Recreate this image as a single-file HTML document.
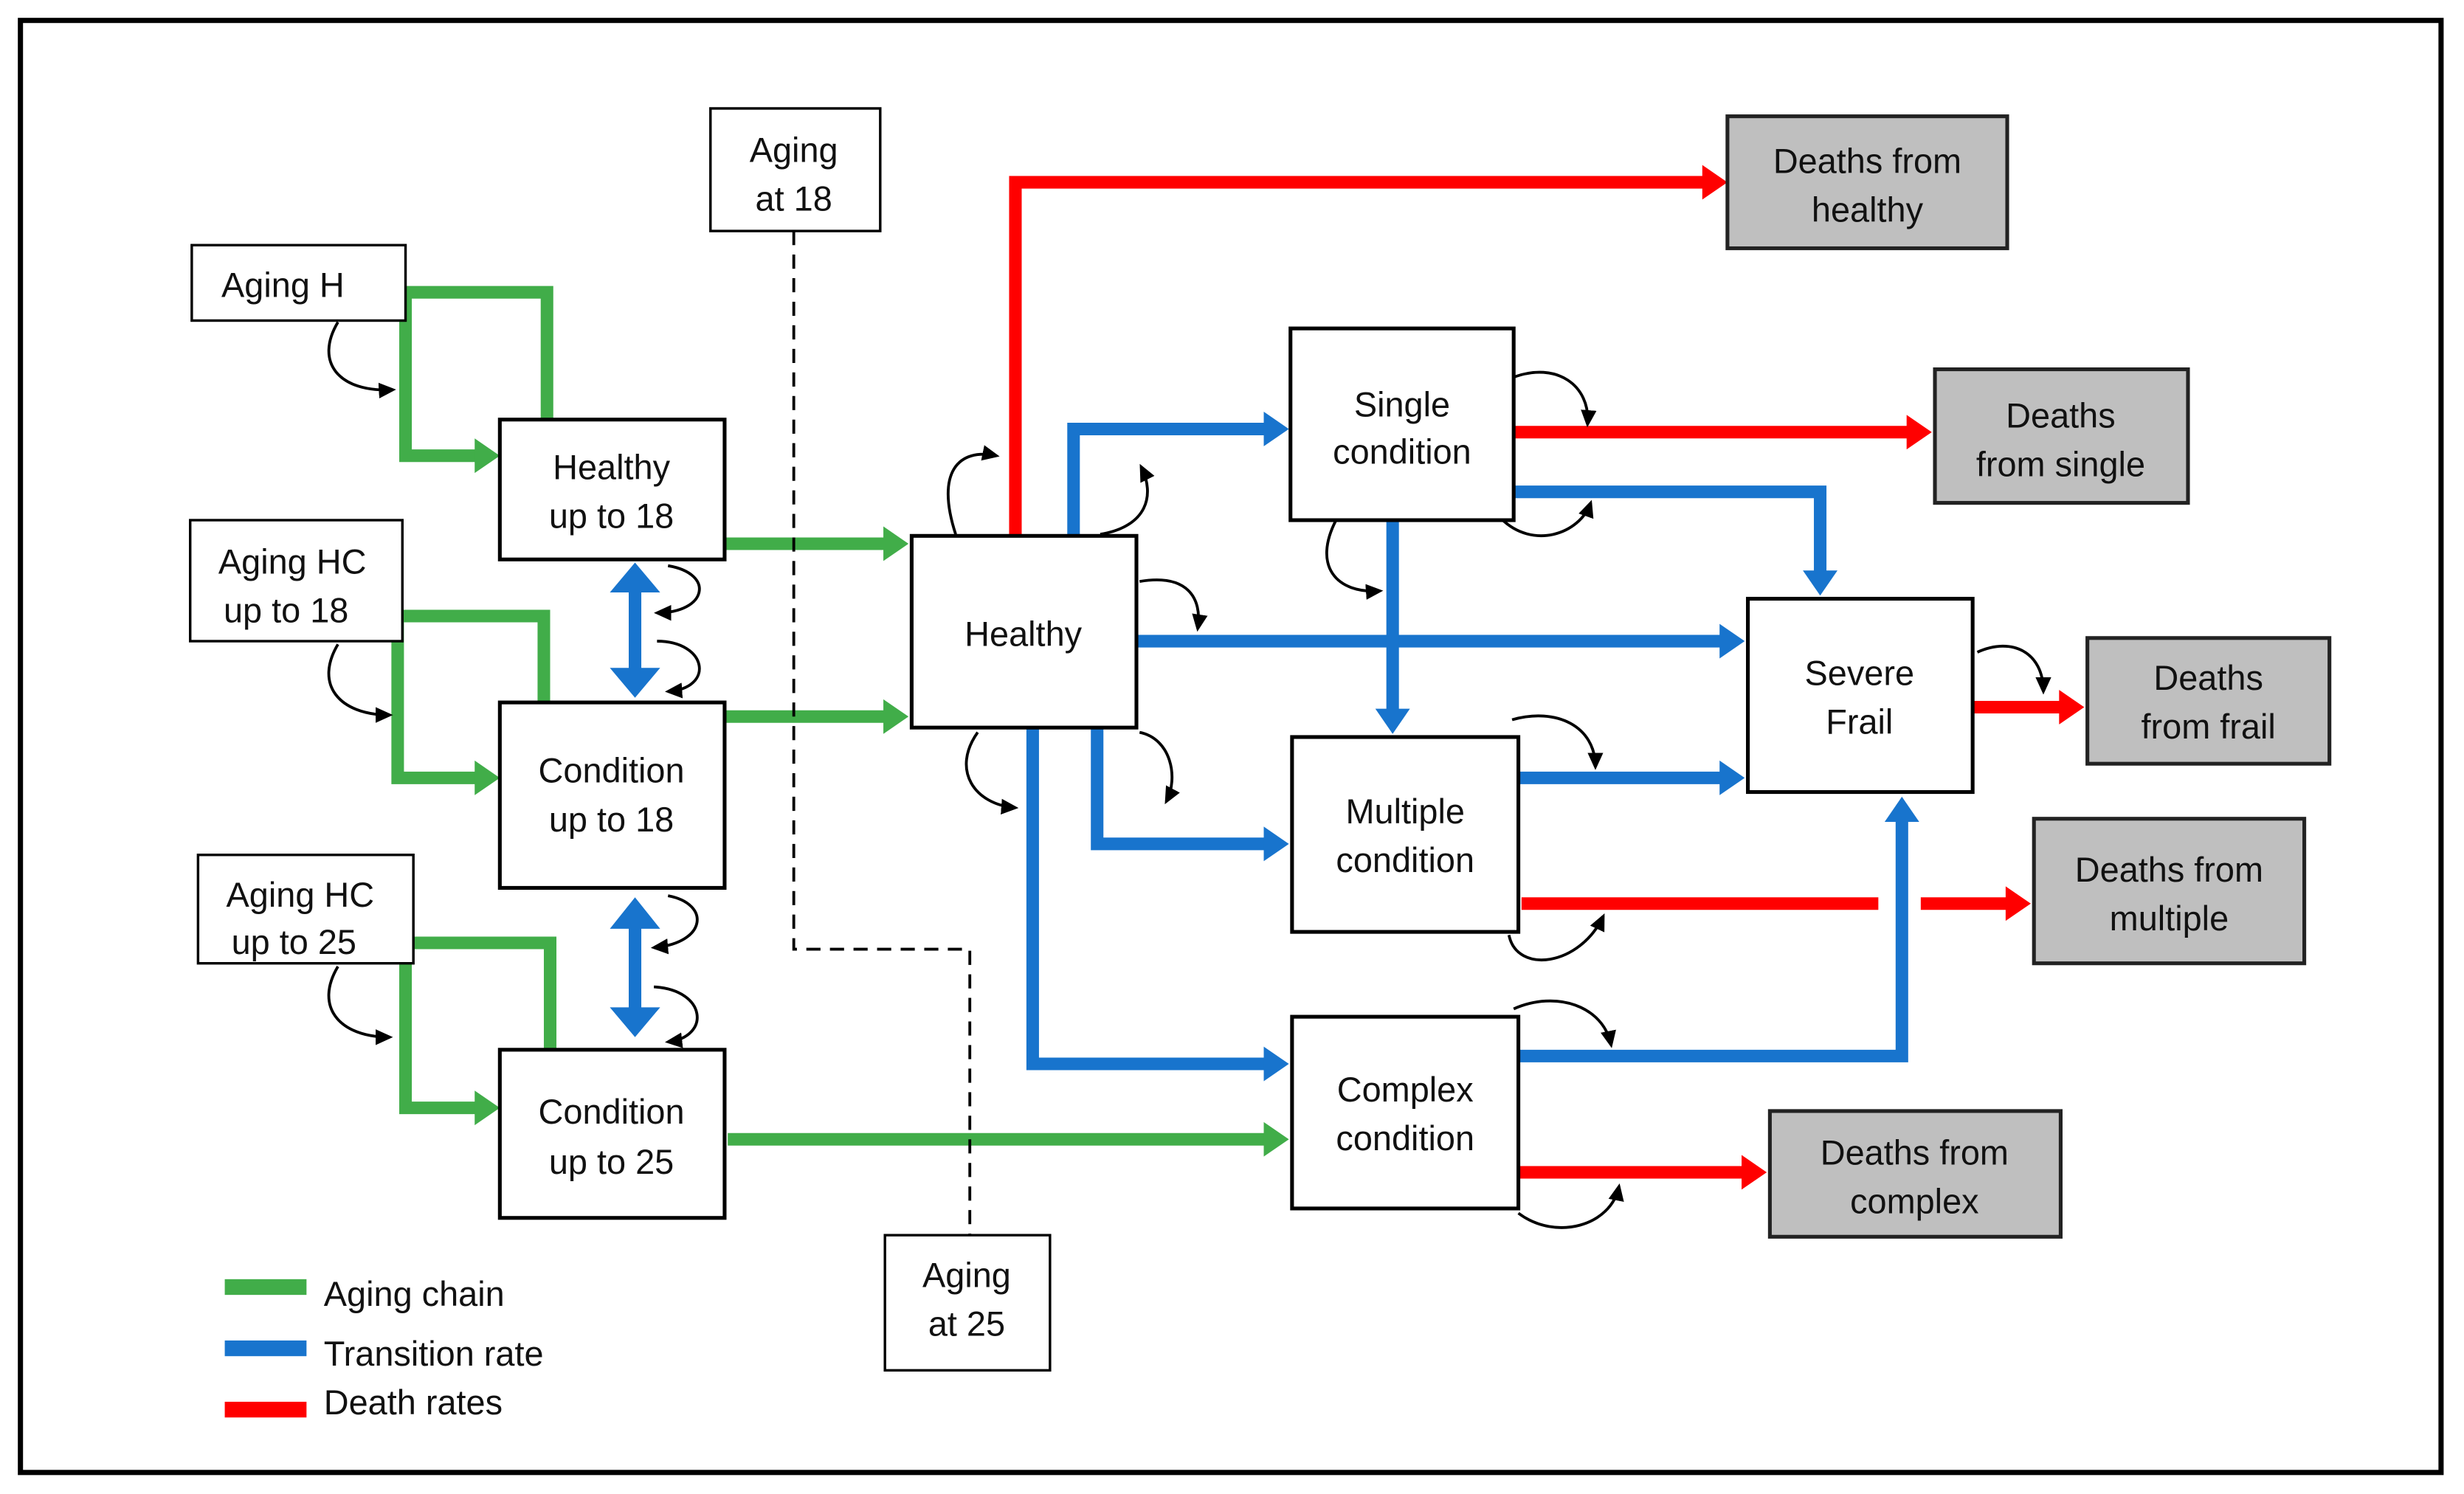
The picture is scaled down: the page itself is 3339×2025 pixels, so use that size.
<!DOCTYPE html>
<html><head><meta charset="utf-8"><style>
html,body{margin:0;padding:0;background:#fff}
svg{display:block}
text{font-family:"Liberation Sans",sans-serif;font-size:22px;fill:#111;text-anchor:middle}
</style></head><body>
<svg width="3339" height="2025" viewBox="0 0 1567.6 950.7" preserveAspectRatio="none" xmlns="http://www.w3.org/2000/svg">
<defs>
<marker id="m" markerWidth="13" markerHeight="13" refX="9" refY="6.5" orient="auto" markerUnits="userSpaceOnUse"><path d="M0,1.5 L11,6.5 L0,11.5 z" fill="#000"/></marker>
</defs>
<rect x="0" y="0" width="1567.6" height="950.7" fill="#fff"/>
<rect x="13" y="13" width="1540" height="924" fill="none" stroke="#000" stroke-width="3.3"/>

<g fill="none" stroke-width="8" stroke-linejoin="miter">
<g stroke="#41AD49">
<polyline points="348,267 348,186 258,186 258,290 304,290"/>
<polyline points="346,447 346,392 253,392 253,495 304,495"/>
<polyline points="350,668 350,600 258,600 258,705 304,705"/>
<polyline points="461,346 564,346"/>
<polyline points="461,456 564,456"/>
<polyline points="463,725 806,725"/>
</g>
<g stroke="#FF0000">
<polyline points="646,341 646,116 1085,116"/>
<polyline points="963,275 1215,275"/>
<polyline points="968,575 1195,575"/>
<polyline points="1222,575 1278,575"/>
<polyline points="966,746 1110,746"/>
<polyline points="1255,450 1312,450"/>
</g>
<g stroke="#1874CD">
<polyline points="683,341 683,273 806,273"/>
<polyline points="723,408 1096,408"/>
<polyline points="886,331 886,453"/>
<polyline points="963,313 1158,313 1158,365"/>
<polyline points="698,463 698,537 806,537"/>
<polyline points="657,463 657,677 806,677"/>
<polyline points="966,495 1096,495"/>
<polyline points="966,672 1210,672 1210,521"/>
<polyline points="404,374 404,428"/>
<polyline points="404,588 404,644"/>
</g>
</g>
<g fill="#41AD49">
<polygon points="302,279 318,290 302,301"/>
<polygon points="302,484 318,495 302,506"/>
<polygon points="302,694 318,705 302,716"/>
<polygon points="562,335 578,346 562,357"/>
<polygon points="562,445 578,456 562,467"/>
<polygon points="804,714 820,725 804,736"/>
</g>
<g fill="#FF0000">
<polygon points="1083,105 1099,116 1083,127"/>
<polygon points="1213,264 1229,275 1213,286"/>
<polygon points="1276,564 1292,575 1276,586"/>
<polygon points="1108,735 1124,746 1108,757"/>
<polygon points="1310,439 1326,450 1310,461"/>
</g>
<g fill="#1874CD">
<polygon points="804,262 820,273 804,284"/>
<polygon points="1094,397 1110,408 1094,419"/>
<polygon points="875,451 886,467 897,451"/>
<polygon points="1147,363 1158,379 1169,363"/>
<polygon points="804,526 820,537 804,548"/>
<polygon points="804,666 820,677 804,688"/>
<polygon points="1094,484 1110,495 1094,506"/>
<polygon points="1199,523 1210,507 1221,523"/>
<polygon points="388,377 404,358 420,377"/>
<polygon points="388,425 404,444 420,425"/>
<polygon points="388,591 404,571 420,591"/>
<polygon points="388,641 404,660 420,641"/>
</g>

<g fill="none" stroke="#000" stroke-width="1.8" marker-end="url(#m)">
<path d="M215,205 C200,230 215,250 250,248"/>
<path d="M215,410 C200,435 215,455 248,455"/>
<path d="M215,615 C200,640 215,660 248,660"/>
<path d="M425,360 C455,365 450,390 418,390"/>
<path d="M418,408 C450,408 455,438 425,440"/>
<path d="M425,570 C452,575 450,600 416,603"/>
<path d="M416,628 C450,630 452,660 425,663"/>
<path d="M608,340 C595,300 610,285 634,290"/>
<path d="M700,340 C730,335 735,315 726,297"/>
<path d="M725,370 C755,365 765,380 762,400"/>
<path d="M622,466 C605,490 620,512 646,514"/>
<path d="M725,466 C745,470 750,495 742,510"/>
<path d="M963,240 C990,230 1012,245 1010,270"/>
<path d="M955,330 C975,350 1005,340 1012,320"/>
<path d="M850,331 C835,360 850,378 878,376"/>
<path d="M962,458 C990,450 1015,462 1015,488"/>
<path d="M960,595 C965,620 1005,615 1020,583"/>
<path d="M963,642 C990,630 1020,640 1025,665"/>
<path d="M966,772 C990,790 1025,780 1030,755"/>
<path d="M1258,415 C1280,405 1300,415 1300,440"/>
</g>
<polyline points="505,147 505,604 617,604 617,786" fill="none" stroke="#000" stroke-width="1.8" stroke-dasharray="9,6"/>

<g stroke="#000" stroke-width="1.6" fill="#fff">
<rect x="122" y="156" width="136" height="48"/>
<rect x="121" y="331" width="135" height="77"/>
<rect x="126" y="544" width="137" height="69"/>
<rect x="452" y="69" width="108" height="78"/>
<rect x="563" y="786" width="105" height="86"/>
</g>
<g stroke="#000" stroke-width="2.4" fill="#fff">
<rect x="318" y="267" width="143" height="89"/>
<rect x="318" y="447" width="143" height="118"/>
<rect x="318" y="668" width="143" height="107"/>
<rect x="580" y="341" width="143" height="122"/>
<rect x="821" y="209" width="142" height="122"/>
<rect x="822" y="469" width="144" height="124"/>
<rect x="822" y="647" width="144" height="122"/>
<rect x="1112" y="381" width="143" height="123"/>
</g>
<g stroke="#222" stroke-width="2.4" fill="#BFBFBF">
<rect x="1099" y="74" width="178" height="84"/>
<rect x="1231" y="235" width="161" height="85"/>
<rect x="1328" y="406" width="154" height="80"/>
<rect x="1294" y="521" width="172" height="92"/>
<rect x="1126" y="707" width="185" height="80"/>
</g>

<text x="180" y="189">Aging H</text>
<text x="186" y="365">Aging HC</text><text x="182" y="396">up to 18</text>
<text x="191" y="577">Aging HC</text><text x="187" y="607">up to 25</text>
<text x="505" y="103">Aging</text><text x="505" y="134">at 18</text>
<text x="615" y="819">Aging</text><text x="615" y="850">at 25</text>
<text x="389" y="305">Healthy</text><text x="389" y="336">up to 18</text>
<text x="389" y="498">Condition</text><text x="389" y="529">up to 18</text>
<text x="389" y="715">Condition</text><text x="389" y="747">up to 25</text>
<text x="651" y="411">Healthy</text>
<text x="892" y="265">Single</text><text x="892" y="295">condition</text>
<text x="894" y="524">Multiple</text><text x="894" y="555">condition</text>
<text x="894" y="701">Complex</text><text x="894" y="732">condition</text>
<text x="1183" y="436">Severe</text><text x="1183" y="467">Frail</text>
<text x="1188" y="110">Deaths from</text><text x="1188" y="141">healthy</text>
<text x="1311" y="272">Deaths</text><text x="1311" y="303">from single</text>
<text x="1405" y="439">Deaths</text><text x="1405" y="470">from frail</text>
<text x="1380" y="561">Deaths from</text><text x="1380" y="592">multiple</text>
<text x="1218" y="741">Deaths from</text><text x="1218" y="772">complex</text>

<rect x="143" y="814" width="52" height="10" fill="#41AD49"/>
<rect x="143" y="853" width="52" height="10" fill="#1874CD"/>
<rect x="143" y="892" width="52" height="10" fill="#FF0000"/>
<text x="206" y="831" style="text-anchor:start">Aging chain</text>
<text x="206" y="869" style="text-anchor:start">Transition rate</text>
<text x="206" y="900" style="text-anchor:start">Death rates</text>
</svg>
</body></html>
